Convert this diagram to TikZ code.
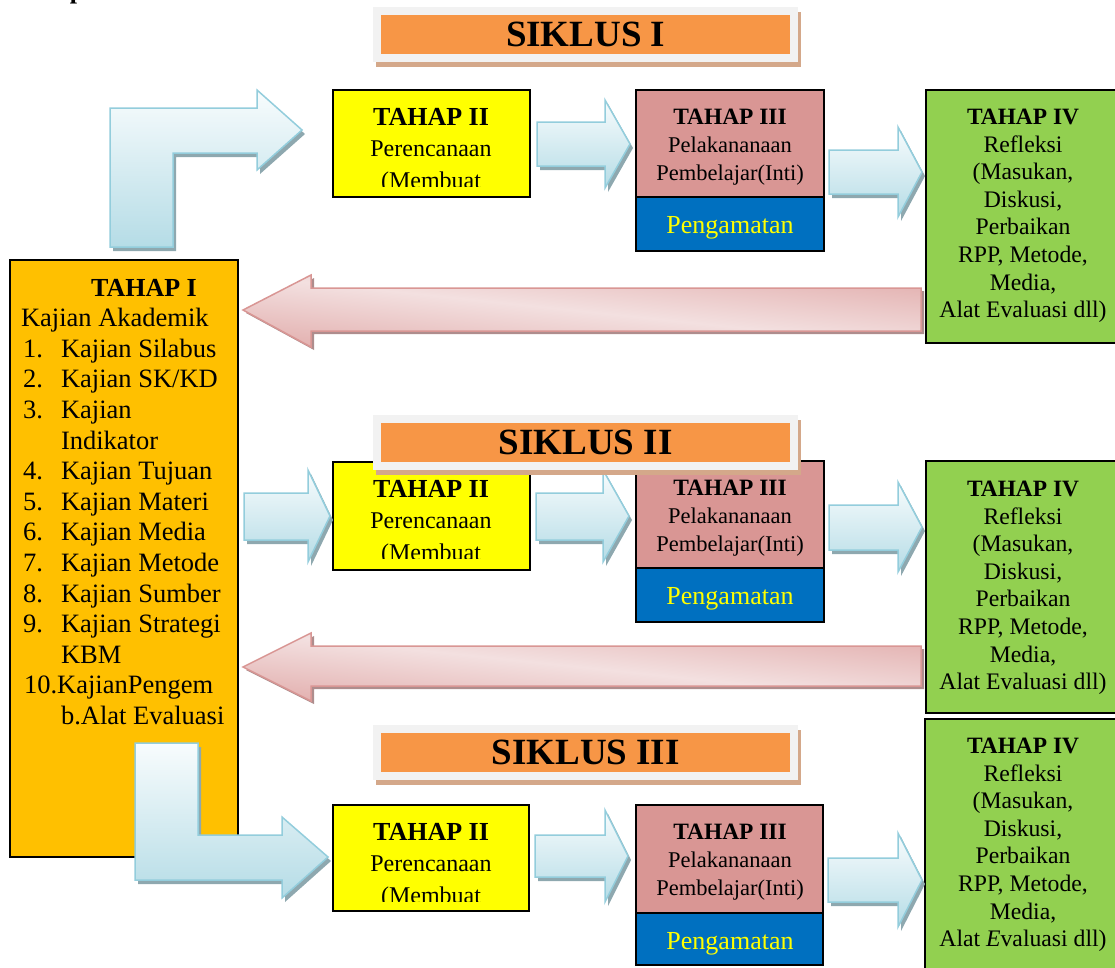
\documentclass[tikz,border=0pt]{standalone}
\usepackage{fontspec}
\setmainfont{Liberation Serif}
\definecolor{gold}{HTML}{FFC000}
\definecolor{yel}{HTML}{FFFF00}
\definecolor{pinkbox}{HTML}{D99694}
\definecolor{bluebox}{HTML}{0070C0}
\definecolor{greenbox}{HTML}{92D050}
\definecolor{bannerorange}{HTML}{F79646}
\definecolor{bannergray}{HTML}{F2F2F2}
\definecolor{bannershadow}{HTML}{D4A88A}
\definecolor{btop}{HTML}{F8FCFD}
\definecolor{bbot}{HTML}{B5DCE6}
\definecolor{bborder}{HTML}{93CDDC}
\definecolor{bshadow}{HTML}{8EA8AF}
\definecolor{pdark}{HTML}{E3B1B0}
\definecolor{plight}{HTML}{F3E0E0}
\definecolor{pborder}{HTML}{D99694}
\definecolor{pshadow}{HTML}{AE8D8D}
\newcommand\bluearrow[1]{%
  \fill[bshadow, shift={(3,4)}] #1;
  \shadedraw[top color=btop, bottom color=bbot, draw=bborder, line width=1.5pt, line join=miter] #1;}
\newcommand\pinkarrow[1]{%
  \fill[pshadow, shift={(3,3)}] #1;
  \shadedraw[top color=pdark, bottom color=pdark, middle color=plight, shading angle=-6, draw=pborder, line width=1.5pt, line join=miter] #1;}
\newcommand\txtlines[5]{%
  \foreach \t [count=\i from 0] in {#5} {\node[anchor=base, inner sep=0pt] (#1-\i) at (#2, #3+\i*#4) {\t};}}
\begin{document}
\begin{tikzpicture}[x=1pt,y=-1pt,
  box/.style={draw=black, line width=1.5pt, anchor=north west, inner sep=0pt, outer sep=0pt},
  plain/.style={inner sep=0pt, outer sep=0pt},
  bannerout/.style={fill=bannergray, anchor=north west, inner sep=0pt, minimum width=425pt, minimum height=55pt},
  bannerin/.style={fill=bannerorange, anchor=north west, inner sep=0pt, minimum width=409pt, minimum height=39pt, font=\bfseries\fontsize{37}{40}\selectfont}]
\useasboundingbox (0,0) rectangle (1115,967);

% cut-off text at the very top
\node[anchor=base, plain, font=\bfseries\fontsize{26}{30}\selectfont] (ptop) at (77,-1.5) {p};

% ===== TAHAP I =====
\node[box, fill=gold, minimum width=228pt, minimum height=597pt] (t1) at (10,260) {};
\begin{scope}[font=\fontsize{26.5}{30.6}\selectfont]
\node[anchor=base, plain, font=\bfseries\fontsize{26}{30}\selectfont] (t1h) at (144,296) {TAHAP I};
\node[anchor=base west, plain] (t1a) at (21,326.6) {Kajian Akademik};
\foreach \n/\txt [count=\k from 2] in {1./Kajian Silabus, 2./Kajian SK{/}KD, 3./Kajian} {
  \node[anchor=base west, plain] (t1n\k) at (23,296+\k*30.6) {\n};
  \node[anchor=base west, plain] (t1t\k) at (61,296+\k*30.6) {\txt};}
\node[anchor=base west, plain] (t1t5) at (61,296+5*30.6) {Indikator};
\foreach \n/\txt [count=\k from 6] in {4./Kajian Tujuan, 5./Kajian Materi, 6./Kajian Media, 7./Kajian Metode, 8./Kajian Sumber, 9./Kajian Strategi} {
  \node[anchor=base west, plain] (t1n\k) at (23,296+\k*30.6) {\n};
  \node[anchor=base west, plain] (t1t\k) at (61,296+\k*30.6) {\txt};}
\node[anchor=base west, plain] (t1t12) at (61,296+12*30.6) {KBM};
\node[anchor=base west, plain] (t1t13) at (24,296+13*30.6) {10.KajianPengem};
\node[anchor=base west, plain] (t1t14) at (61,296+14*30.6) {b.Alat Evaluasi};
\end{scope}

% ===== rows of boxes =====
% row 1
\node[box, fill=yel, minimum width=197pt, minimum height=107pt] (y1) at (333,90) {};
\node[box, fill=pinkbox, minimum width=188pt, minimum height=107pt] (p1) at (636,90) {};
\node[box, fill=bluebox, minimum width=188pt, minimum height=54pt] (b1) at (636,197) {};
\node[box, fill=greenbox, minimum width=200pt, minimum height=253pt] (g1) at (926,90) {};
% row 2
\node[box, fill=yel, minimum width=197pt, minimum height=108pt] (y2) at (333,462) {};
\node[box, fill=pinkbox, minimum width=188pt, minimum height=107pt] (p2) at (636,461) {};
\node[box, fill=bluebox, minimum width=188pt, minimum height=54pt] (b2) at (636,568) {};
\node[box, fill=greenbox, minimum width=200pt, minimum height=252pt] (g2) at (926,461) {};
% row 3
\node[box, fill=yel, minimum width=196pt, minimum height=106pt] (y3) at (333,805) {};
\node[box, fill=pinkbox, minimum width=187pt, minimum height=108pt] (p3) at (636,805) {};
\node[box, fill=bluebox, minimum width=187pt, minimum height=52pt] (b3) at (636,913) {};
\node[box, fill=greenbox, minimum width=200pt, minimum height=260pt] (g3) at (925,719) {};

% yellow texts (clipped)
\foreach \r/\top in {1/90, 2/462, 3/805} {
  \begin{scope}
    \clip (333,\top) rectangle (530,\top+96.5);
    \node[anchor=base, plain, font=\bfseries\fontsize{26}{30}\selectfont] (y\r h) at (431,\top+35) {TAHAP II};
    \node[anchor=base, plain, font=\fontsize{24}{30}\selectfont] (y\r a) at (431,\top+66) {Perencanaan};
    \node[anchor=base, plain, font=\fontsize{24}{30}\selectfont] (y\r b) at (431,\top+98) {(Membuat};
  \end{scope}}

% pink + blue texts
\foreach \r/\top/\btop in {1/90/197, 2/461/568, 3/805/913} {
  \node[anchor=base, plain, font=\bfseries\fontsize{23.4}{28}\selectfont] (p\r h) at (730,\top+34) {TAHAP III};
  \node[anchor=base, plain, font=\fontsize{22.5}{28}\selectfont] (p\r a) at (730,\top+62) {Pelakananaan};
  \node[anchor=base, plain, font=\fontsize{22.5}{28}\selectfont] (p\r b) at (730,\top+90) {Pembelajar(Inti)};
  \node[anchor=base, plain, text=yel, font=\fontsize{26}{30}\selectfont] (b\r t) at (730,\btop+36) {Pengamatan};}

% green texts
\node[anchor=base, plain, font=\bfseries\fontsize{23.4}{28}\selectfont] (g1h) at (1023,124) {TAHAP IV};
\node[anchor=base, plain, font=\bfseries\fontsize{23.4}{28}\selectfont] (g2h) at (1023,496) {TAHAP IV};
\node[anchor=base, plain, font=\bfseries\fontsize{23.4}{28}\selectfont] (g3h) at (1023,753) {TAHAP IV};
\begin{scope}[font=\fontsize{23.7}{28}\selectfont]
\txtlines{g1l}{1023}{152}{27.6}{Refleksi,{(Masukan,},{Diskusi,},Perbaikan,{RPP, Metode,},{Media,},Alat Evaluasi dll)}
\txtlines{g2l}{1023}{524}{27.6}{Refleksi,{(Masukan,},{Diskusi,},Perbaikan,{RPP, Metode,},{Media,},Alat Evaluasi dll)}
\txtlines{g3l}{1023}{781}{27.6}{Refleksi,{(Masukan,},{Diskusi,},Perbaikan,{RPP, Metode,},{Media,},{Alat \textit{E}valuasi dll)}}
\end{scope}

% ===== blue block arrows =====
\bluearrow{(110,247) -- (110,108) -- (257,108) -- (257,90) -- (302,130) -- (257,170) -- (257,153) -- (173,153) -- (173,247) -- cycle}
\bluearrow{(537,122) -- (605,122) -- (605,100) -- (630,144) -- (605,188) -- (605,166) -- (537,166) -- cycle}
\bluearrow{(829,150) -- (898,150) -- (898,127) -- (922,172) -- (898,217) -- (898,194) -- (829,194) -- cycle}
\bluearrow{(244,493) -- (308,493) -- (308,470) -- (330,516) -- (308,562) -- (308,540) -- (244,540) -- cycle}
\bluearrow{(536,493) -- (603,493) -- (603,470) -- (629,516) -- (603,562) -- (603,540) -- (536,540) -- cycle}
\bluearrow{(829,505) -- (898,505) -- (898,482) -- (922,527) -- (898,572) -- (898,550) -- (829,550) -- cycle}
\bluearrow{(535,835) -- (605,835) -- (605,810) -- (628,856) -- (605,902) -- (605,877) -- (535,877) -- cycle}
\bluearrow{(828,858) -- (898,858) -- (898,833) -- (922,880) -- (898,927) -- (898,902) -- (828,902) -- cycle}
\bluearrow{(135,743) -- (198,743) -- (198,835) -- (282,835) -- (282,817) -- (328,857) -- (282,898) -- (282,880) -- (135,880) -- cycle}

% ===== pink block arrows =====
\pinkarrow{(921,288) -- (311,288) -- (311,275) -- (243,310) -- (311,347) -- (311,331) -- (921,331) -- cycle}
\pinkarrow{(921,646) -- (311,646) -- (311,633) -- (243,667) -- (311,701) -- (311,686) -- (921,686) -- cycle}

% ===== banners =====
\foreach \r/\txt/\top in {1/SIKLUS I/7, 2/SIKLUS II/415, 3/SIKLUS III/725} {
  \fill[bannershadow] (376,\top+5) rectangle (801,\top+60);
  \node[bannerout] (s\r o) at (373,\top) {};
  \node[bannerin] (s\r) at (381,\top+8) {\txt};}
\end{tikzpicture}
\end{document}
